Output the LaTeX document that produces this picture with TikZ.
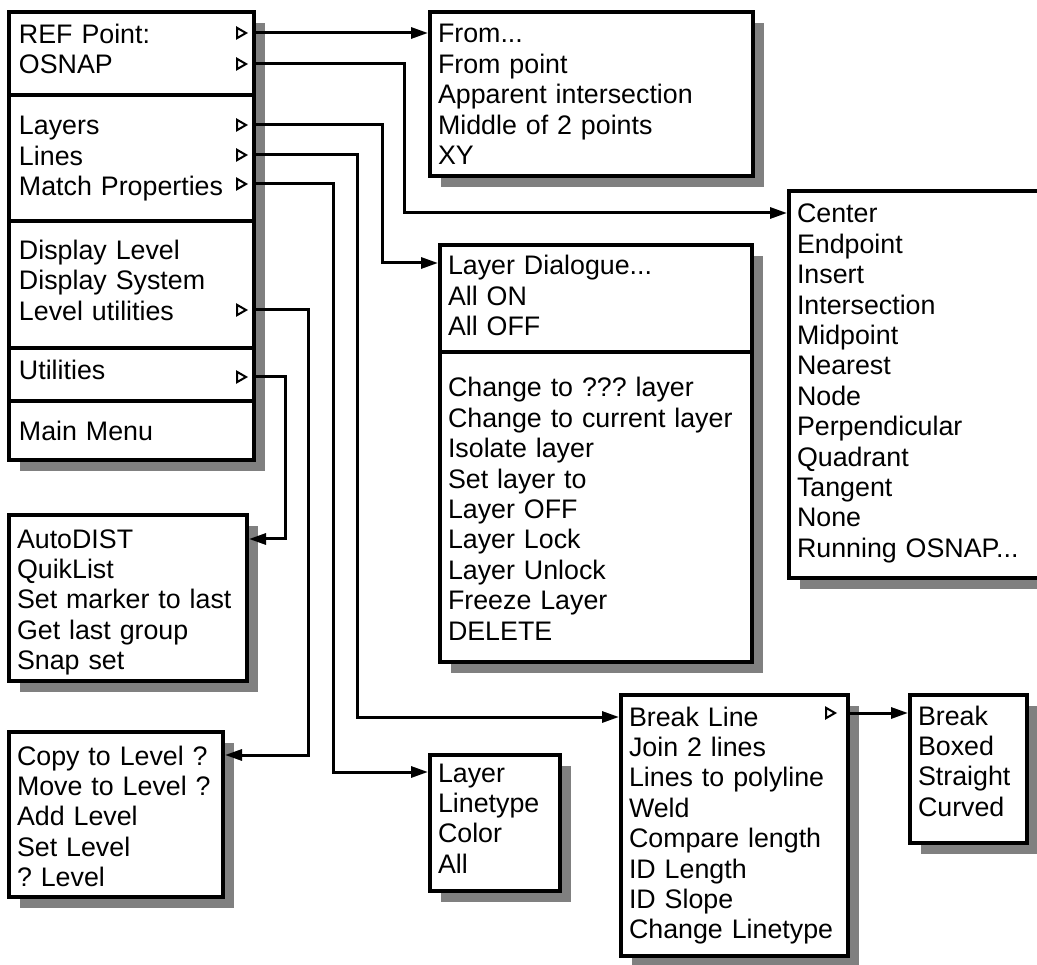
\documentclass[tikz,border=0pt]{standalone}
\usepackage{fontspec}
\setmainfont{Liberation Sans}
\usetikzlibrary{shapes.geometric,shadows,arrows.meta}
\definecolor{shade}{gray}{0.5}
\newcommand\menufont{\fontsize{26.8}{30.4}\selectfont\frenchspacing}

\begin{document}
\begin{tikzpicture}[x=1pt, y=-1pt,
  menu/.style n args={3}{rectangle, draw=black, line width=4pt, fill=white, anchor=north west, inner xsep=8pt, inner ysep=0pt, align=left, font=\menufont, text width=#1, text height=#2, text depth=#3, drop shadow={shadow xshift=11pt, shadow yshift=-11pt, fill=shade, opacity=1}},
  main/.style={inner xsep=10pt},
  more/.style={regular polygon, regular polygon sides=3, shape border rotate=-90, draw=black, line width=2pt, fill=white, inner sep=0pt, minimum size=12pt},
  link/.style={draw=black, line width=3pt, -{Triangle[length=17pt,width=11pt]}}]

\useasboundingbox (0,0) rectangle (1037,965);

% main menu, one node per section
\node [menu={225pt}{31.5pt}{51.5pt}, main] (sec1) at (7,10) {REF Point:\\OSNAP};
\node [menu={225pt}{40pt}{86pt}, main] (sec2) at (7,93) {Layers\\Lines\\Match Properties};
\node [menu={225pt}{38.5pt}{88.5pt}, main] (sec3) at (7,219) {Display Level\\Display System\\Level utilities};
\node [menu={225pt}{32pt}{21pt}, main] (sec4) at (7,346) {Utilities};
\node [menu={225pt}{40pt}{19pt}, main] (sec5) at (7,399) {Main Menu};

% sub menus
\node [menu={307pt}{31pt}{133pt}] (from) at (428,10) {From...\\From point\\Apparent intersection\\Middle of 2 points\\XY};
\node [menu={284pt}{32pt}{355pt}] (osnap) at (787,189) {Center\\Endpoint\\Insert\\Intersection\\Midpoint\\Nearest\\Node\\Perpendicular\\Quadrant\\Tangent\\None\\Running OSNAP...};
\node [menu={296pt}{30pt}{77pt}] (layA) at (438,243) {Layer Dialogue...\\All ON\\All OFF};
\node [menu={296pt}{45pt}{265pt}] (layB) at (438,350) {Change to ??? layer\\Change to current layer\\Isolate layer\\Set layer to\\Layer OFF\\Layer Lock\\Layer Unlock\\Freeze Layer\\DELETE};
\node [menu={222pt}{33pt}{133pt}] (auto) at (7,513) {AutoDIST\\QuikList\\Set marker to last\\Get last group\\Snap set};
\node [menu={198pt}{33pt}{132pt}] (level) at (7,730) {Copy to Level ?\\Move to Level ?\\Add Level\\Set Level\\? Level};
\node [menu={114pt}{27pt}{109pt}] (props) at (428,753) {Layer\\Linetype\\Color\\All};
\node [menu={211pt}{31pt}{230pt}] (brk) at (619,693) {Break Line\\Join 2 lines\\Lines to polyline\\Weld\\Compare length\\ID Length\\ID Slope\\Change Linetype};
\node [menu={101pt}{30pt}{118pt}] (brkopt) at (908,693) {Break\\Boxed\\Straight\\Curved};

% sub menu marks
\node [more] (refT) at (240,33) {};
\node [more] (osT) at (240,64) {};
\node [more] (layT) at (240,125) {};
\node [more] (linT) at (240,155) {};
\node [more] (matT) at (240,184) {};
\node [more] (lvlT) at (240,310) {};
\node [more] (utlT) at (240,377) {};
\node [more] (brkT) at (829,713) {};

\draw[link] (refT -| sec1.east) -- (refT -| from.west);
\draw[link] (osT -| sec1.east) -- ++(148,0) |- ([yshift=-24pt]osnap.north west);
\draw[link] (layT -| sec2.east) -- ++(126,0) |- ([yshift=-20pt]layA.north west);
\draw[link] (linT -| sec2.east) -- ++(101,0) |- ([yshift=-24pt]brk.north west);
\draw[link] (matT -| sec2.east) -- ++(77,0) |- ([yshift=-19pt]props.north west);
\draw[link] (lvlT -| sec3.east) -- ++(52,0) |- ([yshift=-25pt]level.north east);
\draw[link] (utlT -| sec4.east) -- ++(29,0) |- ([yshift=-26pt]auto.north east);
\draw[link] (brkT -| brk.east) -- (brkT -| brkopt.west);

\end{tikzpicture}
\end{document}
